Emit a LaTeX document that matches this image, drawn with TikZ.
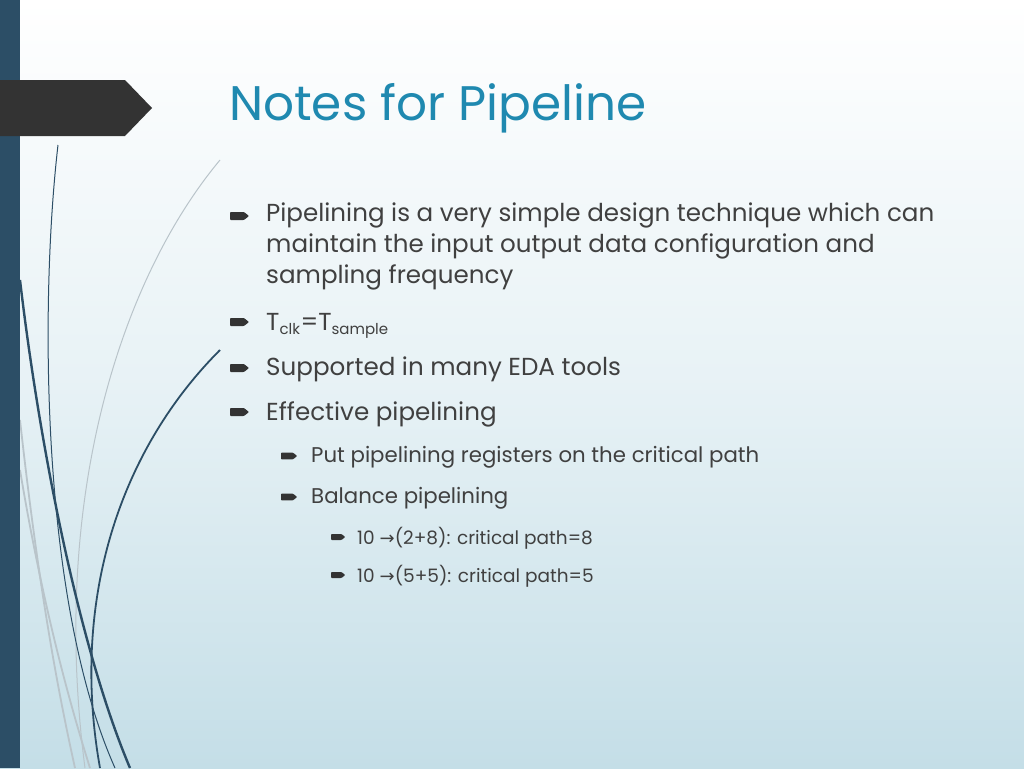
\documentclass[tikz,border=0pt]{standalone}
\usepackage{fontspec}
\setmainfont{Poppins}
\definecolor{titleblue}{RGB}{31,137,176}
\definecolor{barblue}{RGB}{44,78,102}
\definecolor{darkgray}{RGB}{51,51,51}
\definecolor{textgray}{RGB}{64,64,64}
\definecolor{bgtop}{RGB}{255,255,255}
\definecolor{bgbot}{RGB}{196,222,231}
\definecolor{lightline}{RGB}{185,196,202}
\tikzset{
  bul/.pic={\fill[darkgray, rounded corners=0.8] (0,-4) -- (14,-4) -- (19,0) -- (14,4) -- (0,4) -- cycle;},
  txtone/.style={anchor=west, text=textgray, font=\fontsize{24.6}{31}\selectfont, align=left, inner sep=0},
  txttwo/.style={anchor=west, text=textgray, font=\fontsize{21.3}{26}\selectfont, inner sep=0},
  txtthree/.style={anchor=west, text=textgray, font=\fontsize{18.5}{22}\selectfont, inner sep=0}
}
\newcommand{\arr}{{\fontspec{DejaVu Sans}\fontsize{18}{22}\selectfont→}}
\begin{document}
\begin{tikzpicture}[x=1pt,y=-1pt]
\useasboundingbox (0,0) rectangle (1024,768);
\shade[top color=bgtop, bottom color=bgbot, middle color=bgtop!60!bgbot] (0,0) rectangle (1024,768);
% decorative curves
\draw[lightline, line width=1.8] (20,420) .. controls (40,600) and (60,700) .. (75,768);
\draw[lightline, line width=1.8] (20,470) .. controls (45,620) and (75,720) .. (90,768);
\draw[lightline, line width=1] (220,160) .. controls (120,280) and (50,500) .. (85,768);
\draw[barblue, line width=1] (58,145) .. controls (40,300) and (40,600) .. (115,768);
\draw[barblue, line width=2.4] (20,280) .. controls (40,450) and (80,650) .. (130,768);
\draw[barblue, line width=1.8] (220,350) .. controls (120,450) and (70,600) .. (100,768);
% side bar and tab
\fill[barblue] (0,0) rectangle (20,768);
\fill[darkgray] (0,80) -- (125,80) -- (152,108) -- (125,136) -- (0,136) -- cycle;
% title
\node[anchor=west, text=titleblue, font=\fontsize{48.5}{52}\selectfont, inner sep=0] (title) at (229,108) {Notes for Pipeline};
% level 1
\pic at (230,216) {bul};
\node[txtone, anchor=north west] (p1) at (266,203) {Pipelining is a very simple design technique which can\\maintain the input output data configuration and\\sampling frequency};
\pic at (230,322) {bul};
\node[txtone] (p2) at (266,326) {T\textsubscript{\fontsize{15}{18}\selectfont clk}=T\textsubscript{\fontsize{15}{18}\selectfont sample}};
\pic at (230,368) {bul};
\node[txtone] (p3) at (266,369) {Supported in many EDA tools};
\pic at (230,412) {bul};
\node[txtone] (p4) at (266,414) {Effective pipelining};
% level 2
\pic[scale=0.85] at (281,456) {bul};
\node[txttwo] (q1) at (311,457) {Put pipelining registers on the critical path};
\pic[scale=0.85] at (281,497) {bul};
\node[txttwo] (q2) at (311,498) {Balance pipelining};
% level 3
\pic[scale=0.75] at (331,537) {bul};
\node[txtthree] (r1) at (357,538) {10 \arr(2+8): critical path=8};
\pic[scale=0.75] at (331,575) {bul};
\node[txtthree] (r2) at (357,576) {10 \arr(5+5): critical path=5};
\end{tikzpicture}
\end{document}
